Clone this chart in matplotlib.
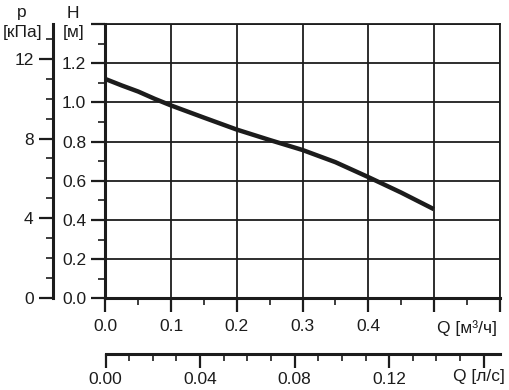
import numpy as np
from matplotlib import pyplot as plt
from matplotlib.ticker import MultipleLocator, FixedLocator

plt.rcParams['font.family'] = ['Liberation Sans', 'DejaVu Sans']
plt.rcParams['font.size'] = 12.5

# Curve: flow Q [m3/h] vs head H [m]
q_m3h = [0.0, 0.025, 0.05, 0.075, 0.1, 0.125, 0.15, 0.2, 0.25, 0.3, 0.35, 0.4, 0.45, 0.5]
head_m = [1.119, 1.086, 1.055, 1.018, 0.984, 0.953, 0.922, 0.861, 0.808, 0.757,
          0.695, 0.619, 0.54, 0.455]

x_labels = ['0.0', '0.1', '0.2', '0.3', '0.4', '', '']
y_labels = ['0.0', '0.2', '0.4', '0.6', '0.8', '1.0', '1.2', '']
p_ticks = [0, 4, 8, 12]
ls_ticks = [0.0, 0.04, 0.08, 0.12, 0.16]
ls_labels = ['0.00', '0.04', '0.08', '0.12', '']

ink = '#1c1c1c'
W, H = 510, 390
fig = plt.figure(figsize=(W / 100, H / 100), dpi=100)
x0, x1, y0, y1 = 105.5, 499.5, 298.3, 24
ax = fig.add_axes([x0 / W, (H - y0) / H, (x1 - x0) / W, (y0 - y1) / H])

ax.plot(q_m3h, head_m, color=ink, lw=3.2, solid_capstyle='butt', solid_joinstyle='round')
ax.set_xlim(0, 0.6)
ax.set_ylim(0, 1.4)

ax.set_xticks(np.arange(0, 0.61, 0.1), x_labels)
ax.set_yticks(np.arange(0, 1.41, 0.2), y_labels)
ax.xaxis.set_minor_locator(MultipleLocator(0.05))
ax.yaxis.set_minor_locator(MultipleLocator(0.1))
ax.grid(True, which='major', color=ink, lw=1.3)
ax.tick_params(which='major', length=10, width=1.6, color=ink, labelcolor=ink, pad=4)
ax.tick_params(which='minor', length=5, width=1.2, color=ink)
ax.tick_params(axis='x', which='major', pad=5)
for s in ax.spines.values():
    s.set_color(ink)
    s.set_linewidth(1.3)
for s in ('left', 'bottom'):
    ax.spines[s].set_linewidth(2.2)
ax.set_axisbelow(True)

# pressure axis p [kPa]
pax = ax.secondary_yaxis((53 - x0) / (x1 - x0), functions=(lambda h: h * 9.81, lambda p: p / 9.81))
pax.yaxis.set_major_locator(FixedLocator(p_ticks))
pax.yaxis.set_minor_locator(MultipleLocator(1))
pax.tick_params(which='major', length=10, width=1.6, color=ink, labelcolor=ink, pad=4)
pax.tick_params(which='minor', length=5, width=1.2, color=ink)
pax.spines['left'].set_linewidth(2.2)
pax.spines['left'].set_color(ink)

# flow axis in l/s
lax = ax.secondary_xaxis((y0 - 354) / (y0 - y1), functions=(lambda q: q / 3.6, lambda q: q * 3.6))
lax.set_xticks(ls_ticks, ls_labels)
lax.xaxis.set_minor_locator(MultipleLocator(0.01))
lax.tick_params(which='major', length=10, width=1.6, color=ink, labelcolor=ink, pad=3)
lax.tick_params(which='minor', length=5, width=1.2, color=ink)
lax.spines['bottom'].set_linewidth(2.2)
lax.spines['bottom'].set_color(ink)

fig.text(497 / W, 1 - 328 / H, 'Q [м³/ч]', ha='right', va='center', color=ink)
fig.text(505 / W, 1 - 377 / H, 'Q [л/с]', ha='right', va='center', color=ink)
fig.text(22 / W, 1 - 13 / H, 'p', ha='center', va='center', color=ink)
fig.text(22.5 / W, 1 - 32 / H, '[кПа]', ha='center', va='center', color=ink)
fig.text(73 / W, 1 - 13 / H, 'H', ha='center', va='center', color=ink)
fig.text(73.5 / W, 1 - 32 / H, '[м]', ha='center', va='center', color=ink)

fig.savefig('out.png', dpi=100)
